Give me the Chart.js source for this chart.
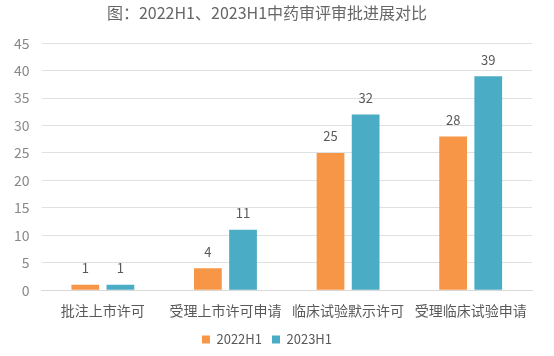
<!DOCTYPE html>
<html><head><meta charset="utf-8">
<script src="https://cdn.jsdelivr.net/npm/chart.js@4/dist/chart.umd.min.js"></script>
<style>html,body{margin:0;padding:0;background:#fff}#wrap{width:554px;height:356px}</style>
</head><body><div id="wrap"><canvas id="c" width="554" height="356"></canvas></div>
<script>
const categories = ["批注上市许可", "受理上市许可申请", "临床试验默示许可", "受理临床试验申请"];
const series2022 = [1, 4, 25, 28];
const series2023 = [1, 11, 32, 39];
const seriesNames = ["2022H1", "2023H1"];
const yTicks = [0, 5, 10, 15, 20, 25, 30, 35, 40, 45];

const FONT = '"Noto Sans CJK SC", "Noto Sans", sans-serif';

const valueLabels = {
  id: 'valueLabels',
  afterDatasetsDraw(chart) {
    const ctx = chart.ctx;
    ctx.save();
    ctx.fillStyle = '#595959';
    ctx.font = '13px ' + FONT;
    ctx.textAlign = 'center';
    ctx.textBaseline = 'bottom';
    chart.data.datasets.forEach((ds, i) => {
      chart.getDatasetMeta(i).data.forEach((bar, j) => {
        ctx.fillText(String(ds.data[j]), bar.x, bar.y - 10);
      });
    });
    ctx.restore();
  }
};

new Chart(document.getElementById('c'), {
  type: 'bar',
  data: {
    labels: categories,
    datasets: [
      { label: seriesNames[0], data: series2022, backgroundColor: '#F79646' },
      { label: seriesNames[1], data: series2023, backgroundColor: '#4BACC6' }
    ]
  },
  options: {
    responsive: false,
    animation: false,
    devicePixelRatio: 1,
    layout: { padding: { left: 2, right: 22, top: 1, bottom: 0 } },
    datasets: { bar: { categoryPercentage: 0.573, barPercentage: 0.79 } },
    plugins: {
      title: {
        display: true,
        text: '图：2022H1、2023H1中药审评审批进展对比',
        color: '#666666',
        font: { family: FONT, size: 16, weight: 'normal' },
        padding: { top: 2, bottom: 21 }
      },
      legend: {
        position: 'bottom',
        labels: {
          color: '#595959',
          font: { family: FONT, size: 13 },
          boxWidth: 8, boxHeight: 8, padding: 10
        }
      },
      tooltip: { enabled: false }
    },
    scales: {
      x: {
        grid: { display: false },
        border: { color: '#d9d9d9' },
        ticks: { color: '#595959', font: { family: FONT, size: 14 }, padding: 4, maxRotation: 0, autoSkip: false }
      },
      y: {
        min: 0, max: 45,
        afterBuildTicks(axis) { axis.ticks = yTicks.map(v => ({ value: v })); },
        grid: { color: '#e0e0e0', drawTicks: false },
        border: { display: false },
        ticks: { color: '#888888', font: { family: FONT, size: 14 }, padding: 12 }
      }
    }
  },
  plugins: [valueLabels]
});
</script></body></html>
